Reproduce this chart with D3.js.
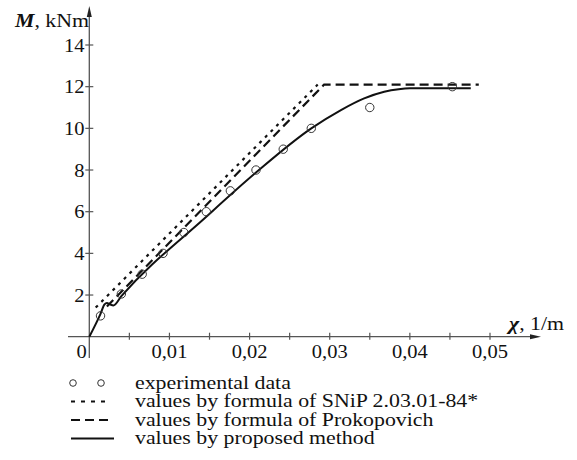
<!DOCTYPE html>
<html>
<head>
<meta charset="utf-8">
<script src="https://cdn.jsdelivr.net/npm/d3@7"></script>
<style>
  body { margin: 0; background: #fff; }
  svg { display: block; }
  text { font-family: "Liberation Serif", "Times New Roman", serif; fill: #111; }
</style>
</head>
<body>
<div id="chart"></div>
<script>
'use strict';

// experimental points (chi, M)
var expChi = [0.0014, 0.0040, 0.0066, 0.0092, 0.0118, 0.0146, 0.0176, 0.0208, 0.0242, 0.0277, 0.0350, 0.0453];
var expM   = [1.0, 2.05, 3.0, 4.0, 5.0, 6.0, 7.0, 8.0, 9.0, 10.0, 11.0, 12.0];

// SNiP 2.03.01-84* (dotted)
var snipChi = [0.0008, 0.0285];
var snipM   = [1.4, 12.1];

// Prokopovich (dashed)
var prokChi = [0.0022, 0.0293, 0.0486];
var prokM   = [1.45, 12.1, 12.1];

// proposed method (solid)
var propChi = [0, 0.0014, 0.0019, 0.0022, 0.0026, 0.0030, 0.0040, 0.0146, 0.0208, 0.0277, 0.0314, 0.0343, 0.0368, 0.0386, 0.0400, 0.0476];
var propM   = [0, 1.1, 1.55, 1.62, 1.55, 1.5, 1.95, 5.76, 7.88, 10.0, 10.88, 11.44, 11.76, 11.88, 11.92, 11.92];

var yTicks = [2, 4, 6, 8, 10, 12, 14];
var xTicks = [0.005, 0.01, 0.015, 0.02, 0.025, 0.03, 0.035, 0.04, 0.045, 0.05];
var xLabels = [0.01, 0.02, 0.03, 0.04, 0.05];

var legendItems = ["experimental data", "values by formula of SNiP 2.03.01-84*", "values by formula of Prokopovich", "values by proposed method"];

var width = 577, height = 460;

var x = d3.scaleLinear().domain([0, 0.05]).range([89.3, 490]);
var y = d3.scaleLinear().domain([0, 14]).range([336.7, 45]);

var svg = d3.select("#chart").append("svg")
  .attr("width", width).attr("height", height)
  .attr("font-family", "Liberation Serif, Times New Roman, serif");

var axisCol = "#555";

//stretched text, the original figure is a bit wider than high
function label(sel, tx, ty, size, sx, anchor){
  return sel.append("text")
    .attr("transform", "translate(" + tx + "," + ty + ") scale(" + sx + ",1)")
    .attr("font-size", size)
    .attr("text-anchor", anchor || "start");
}

//axes
svg.append("line").attr("x1", x(0)).attr("x2", x(0)).attr("y1", 358).attr("y2", 12)
  .attr("stroke", axisCol).attr("stroke-width", 1.3);
svg.append("path").attr("d", "M" + x(0) + ",6 L" + (x(0) - 2.5) + ",17 L" + (x(0) + 2.5) + ",17Z").attr("fill", "#222");

svg.append("line").attr("x1", 68).attr("x2", 534).attr("y1", y(0)).attr("y2", y(0))
  .attr("stroke", axisCol).attr("stroke-width", 1.3);
svg.append("path").attr("d", "M541," + y(0) + " L530," + (y(0) - 2.5) + " L530," + (y(0) + 2.5) + "Z").attr("fill", "#222");

svg.selectAll(".ytick").data(yTicks).enter().append("line")
  .attr("class", "ytick")
  .attr("x1", x(0) - 4).attr("x2", x(0) + 4)
  .attr("y1", function(d){return y(d)}).attr("y2", function(d){return y(d)})
  .attr("stroke", axisCol).attr("stroke-width", 1.2);

svg.selectAll(".xtick").data(xTicks).enter().append("line")
  .attr("class", "xtick")
  .attr("x1", function(d){return x(d)}).attr("x2", function(d){return x(d)})
  .attr("y1", y(0) - 4).attr("y2", y(0) + 3)
  .attr("stroke", axisCol).attr("stroke-width", 1.2);

yTicks.forEach(function(d){
  label(svg, 84.5, y(d) + 6.5, 19, 1.08, "end").text(d);
});

xLabels.forEach(function(d){
  label(svg, x(d), 357.5, 19, 1.08, "middle").text(d3.format(".2f")(d).replace(".", ","));
});

label(svg, 81.5, 357.5, 19, 1.08, "middle").text("0");

// axis titles
var yt = label(svg, 15, 27, 19, 1.15);
yt.append("tspan").attr("font-weight", "bold").attr("font-style", "italic").text("M");
yt.append("tspan").text(", kNm");

var xt = label(svg, 509, 330, 19, 1.15);
xt.append("tspan").attr("font-weight", "bold").attr("font-style", "italic").text("χ");
xt.append("tspan").text(", 1/m");

//curves
var line = d3.line().x(function(d){return x(d[0])}).y(function(d){return y(d[1])});
var curve = d3.line().curve(d3.curveMonotoneX).x(function(d){return x(d[0])}).y(function(d){return y(d[1])});

function pairs(a, b){ return a.map(function(v, i){return [v, b[i]]}); }

svg.append("path").attr("d", line(pairs(snipChi, snipM)))
  .attr("fill", "none").attr("stroke", "#111").attr("stroke-width", 2.2)
  .attr("stroke-dasharray", "3,5");

svg.append("path").attr("d", line(pairs(prokChi, prokM)))
  .attr("fill", "none").attr("stroke", "#111").attr("stroke-width", 2.2)
  .attr("stroke-dasharray", "9,5");

svg.append("path").attr("d", curve(pairs(propChi, propM)))
  .attr("fill", "none").attr("stroke", "#111").attr("stroke-width", 2);

svg.selectAll(".exp").data(pairs(expChi, expM)).enter().append("circle")
  .attr("class", "exp")
  .attr("cx", function(d){return x(d[0])}).attr("cy", function(d){return y(d[1])})
  .attr("r", 4.2).attr("fill", "none").attr("stroke", "#333").attr("stroke-width", 1);

// legend
var lg = svg.append("g").attr("class", "legend");
var rowY = [383, 401.5, 420, 438.5];

lg.append("circle").attr("cx", 73).attr("cy", rowY[0]).attr("r", 3.3)
  .attr("fill", "none").attr("stroke", "#333");
lg.append("circle").attr("cx", 101).attr("cy", rowY[0]).attr("r", 3.3)
  .attr("fill", "none").attr("stroke", "#333");
lg.append("line").attr("x1", 71).attr("x2", 110).attr("y1", rowY[1]).attr("y2", rowY[1])
  .attr("stroke", "#111").attr("stroke-width", 2).attr("stroke-dasharray", "4,6");
lg.append("line").attr("x1", 71).attr("x2", 112).attr("y1", rowY[2]).attr("y2", rowY[2])
  .attr("stroke", "#111").attr("stroke-width", 2).attr("stroke-dasharray", "9,5");
lg.append("line").attr("x1", 71).attr("x2", 114).attr("y1", rowY[3]).attr("y2", rowY[3])
  .attr("stroke", "#111").attr("stroke-width", 2);

legendItems.forEach(function(d, i){
  label(lg, 135, rowY[i] + 5.5, 19, 1.15).text(d);
});
</script>
</body>
</html>
